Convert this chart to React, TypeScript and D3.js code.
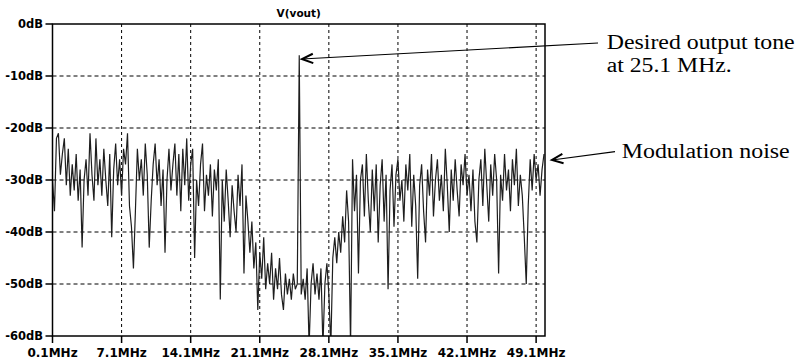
import React from 'react';
import * as d3 from 'd3';

// spectrum bins are 0.2 MHz apart, first bin at 0.1 MHz
const binStartMHz = 0.1;
const binStepMHz = 0.2;

// dB values, in 5 MHz chunks
const band0to5 = [-30, -36, -22, -21, -29, -25, -22, -31, -24, -33, -27, -32, -25, -34, -28, -43, -30, -26, -33, -21, -29, -34, -22, -31, -26];
const band5to10 = [-33, -24, -30, -35, -25, -41, -28, -23, -31, -26, -33, -24, -27, -21, -35, -39, -47, -36, -24, -30, -26, -33, -23, -29, -43];
const band10to15 = [-34, -27, -23, -31, -26, -35, -28, -44, -30, -24, -32, -27, -23, -33, -25, -36, -24, -31, -22, -34, -27, -24, -45, -30, -35];
const band15to20 = [-27, -23, -36, -29, -33, -27, -37, -28, -32, -26, -53, -30, -38, -28, -34, -41, -31, -36, -40, -29, -35, -27, -48, -33, -38];
const band20to25 = [-44, -38, -47, -42, -55, -44, -49, -41, -51, -46, -50, -44, -53, -47, -51, -45, -52, -55, -48, -52, -49, -53, -48, -51, -50];
const band25to30 = [-6, -52, -49, -53, -47, -62, -50, -46, -52, -48, -53, -47, -62, -50, -46, -52, -62, -45, -41, -46, -40, -44, -37, -42, -32];
const band30to35 = [-38, -62, -26, -36, -29, -48, -30, -27, -37, -25, -34, -40, -28, -36, -27, -42, -31, -26, -38, -29, -51, -32, -27, -39, -29];
const band35to40 = [-26, -34, -30, -38, -27, -32, -25, -39, -29, -35, -49, -31, -27, -36, -42, -28, -33, -25, -37, -30, -26, -34, -29, -36, -24];
const band40to45 = [-31, -40, -28, -34, -26, -32, -37, -27, -31, -25, -33, -29, -36, -28, -38, -42, -30, -26, -35, -24, -31, -38, -27, -33, -25];
const band45to50 = [-30, -48, -29, -34, -25, -32, -28, -36, -26, -31, -24, -35, -29, -33, -41, -50, -35, -26, -32, -25, -30, -27, -33, -28, -25];

const spectrum = [
  ...band0to5, ...band5to10, ...band10to15, ...band15to20, ...band20to25,
  ...band25to30, ...band30to35, ...band35to40, ...band40to45, ...band45to50,
];

const yTicks = [0, -10, -20, -30, -40, -50, -60];
const xTicks = [0.1, 7.1, 14.1, 21.1, 28.1, 35.1, 42.1, 49.1];

const W = 796, H = 362;
const left = 52.5, right = 545, top = 24, bottom = 336;

export default function App() {
  const x = d3.scaleLinear().domain([0.1, 50]).range([left, right]);
  const y = d3.scaleLinear().domain([-60, 0]).range([bottom, top]);

  const line = d3.line<number>()
    .x((d, i) => x(binStartMHz + i * binStepMHz))
    .y(d => y(d));

  const axisFont = { fontFamily: '"DejaVu Sans", sans-serif', fontWeight: 'bold' as const };
  const noteFont = { fontFamily: '"Liberation Serif", "Times New Roman", serif' };

  // arrow head as two short strokes pointing at (tx,ty) from (fx,fy)
  const arrowHead = (fx: number, fy: number, tx: number, ty: number) => {
    const a = Math.atan2(ty - fy, tx - fx);
    const len = 12, spread = 0.4;
    const p1 = [tx - len * Math.cos(a - spread), ty - len * Math.sin(a - spread)];
    const p2 = [tx - len * Math.cos(a + spread), ty - len * Math.sin(a + spread)];
    return `M${p1[0]},${p1[1]}L${tx},${ty}L${p2[0]},${p2[1]}`;
  };

  return (
    <svg width={W} height={H} style={{ position: 'absolute', left: 0, top: 0, background: '#fff' }}>
      <defs>
        <clipPath id="plotClip">
          <rect x={left} y={top} width={right - left} height={bottom - top} />
        </clipPath>
      </defs>

      {/* grid */}
      {yTicks.filter(t => t !== 0 && t !== -60).map(t => (
        <line key={'gy' + t} x1={left} x2={right} y1={y(t)} y2={y(t)}
          stroke="#000" strokeWidth={1} strokeDasharray="4,3" />
      ))}
      {xTicks.filter(t => t !== 0.1).map(t => (
        <line key={'gx' + t} x1={x(t)} x2={x(t)} y1={top} y2={bottom}
          stroke="#000" strokeWidth={1} strokeDasharray="3,3" />
      ))}

      {/* trace */}
      <path d={line(spectrum) || ''} fill="none" stroke="#1e1e1e" strokeWidth={1.2}
        clipPath="url(#plotClip)" />

      {/* frame */}
      <rect x={left} y={top} width={right - left} height={bottom - top}
        fill="none" stroke="#000" strokeWidth={1.5} />

      {/* y axis */}
      {yTicks.map(t => (
        <g key={'yt' + t}>
          <line x1={left - 7} x2={left} y1={y(t)} y2={y(t)} stroke="#000" strokeWidth={1.5} />
          <text x={43} y={y(t) + 4} textAnchor="end" fontSize={11.5} style={axisFont}>{t}dB</text>
        </g>
      ))}

      {/* x axis */}
      {xTicks.map(t => (
        <g key={'xt' + t}>
          <line x1={x(t)} x2={x(t)} y1={bottom} y2={bottom + 7} stroke="#000" strokeWidth={1.5} />
          <text x={x(t)} y={357} textAnchor="middle" fontSize={12} style={axisFont}>{t.toFixed(1)}MHz</text>
        </g>
      ))}

      <text x={(left + right) / 2} y={17} textAnchor="middle" fontSize={10.5} style={axisFont}>V(vout)</text>

      {/* annotations */}
      <line x1={598} y1={43} x2={302} y2={59} stroke="#000" strokeWidth={1.2} />
      <path d={arrowHead(598, 43, 302, 59)} fill="none" stroke="#000" strokeWidth={2} />
      <text x={606.7} y={49} fontSize={20} textLength={188} lengthAdjust="spacingAndGlyphs" style={noteFont}>Desired output tone</text>
      <text x={606.7} y={72} fontSize={20} textLength={125} lengthAdjust="spacingAndGlyphs" style={noteFont}>at 25.1 MHz.</text>

      <line x1={615} y1={151.7} x2={552} y2={160} stroke="#000" strokeWidth={1.2} />
      <path d={arrowHead(615, 151.7, 552, 160)} fill="none" stroke="#000" strokeWidth={2} />
      <text x={621.7} y={158.3} fontSize={20} textLength={168} lengthAdjust="spacingAndGlyphs" style={noteFont}>Modulation noise</text>
    </svg>
  );
}
